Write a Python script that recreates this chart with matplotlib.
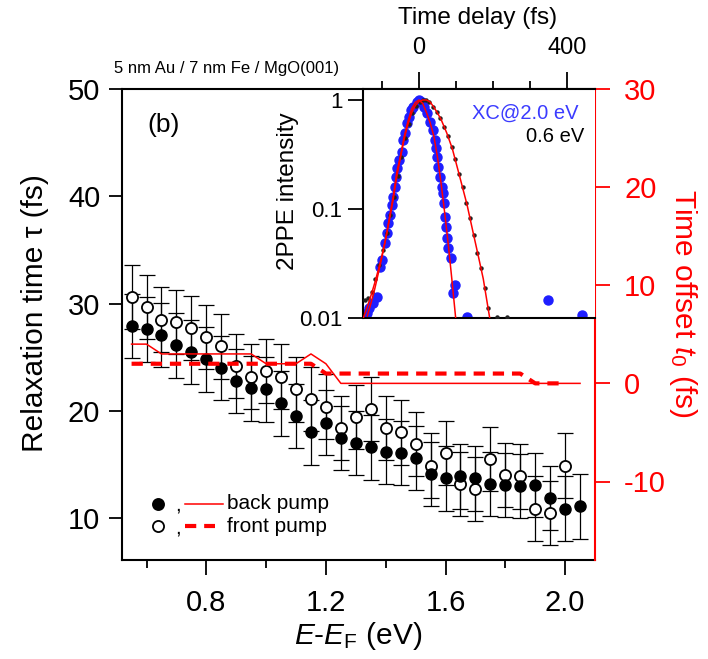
import matplotlib
matplotlib.use("Agg")
import matplotlib.pyplot as plt
from matplotlib import ticker

plt.rcParams["font.family"] = ["Liberation Sans", "DejaVu Sans"]
plt.rcParams["mathtext.fontset"] = "custom"
plt.rcParams["mathtext.rm"] = "Liberation Sans"
plt.rcParams["mathtext.it"] = "Liberation Sans:italic"

# main panel: relaxation time vs energy
energy = [0.55, 0.60, 0.65, 0.70, 0.75, 0.80, 0.85, 0.90, 0.95, 1.00,
          1.05, 1.10, 1.15, 1.20, 1.25, 1.30, 1.35, 1.40, 1.45, 1.50,
          1.55, 1.60, 1.65, 1.70, 1.75, 1.80, 1.85, 1.90, 1.95, 2.00, 2.05]
tau_back = [27.9, 27.6, 27.1, 26.1, 25.5, 24.8, 24.0, 22.8, 22.1, 22.0,
            20.7, 19.5, 18.0, 18.9, 17.5, 17.0, 16.6, 16.2, 16.1, 15.6,
            14.1, 13.7, 13.9, 13.7, 13.2, 13.1, 13.0, 13.1, 11.9, 10.9, 11.1]
tau_front = [30.6, 29.7, 28.5, 28.3, 27.7, 26.9, 26.0, 24.2, 23.2, 23.7,
             23.2, 22.0, 21.1, 20.4, 18.4, 19.4, 20.2, 18.4, 18.0, 16.9,
             14.9, 16.1, 13.2, 12.7, 15.5, 14.0, 13.9, 10.9, 10.5, 14.9]
tau_err = 3.0

# time offset t0 (right axis)
t0_back = [4, 4, 3, 3, 3, 3, 3, 3, 3, 2, 2, 2, 3, 2, 0, 0,
           0, 0, 0, 0, 0, 0, 0, 0, 0, 0, 0, 0, 0, 0, 0]
t0_front = [2, 2, 2, 2, 2, 2, 2, 2, 2, 2, 2, 2, 2, 1, 1,
            1, 1, 1, 1, 1, 1, 1, 1, 1, 1, 1, 1, 0, 0, 0]

# inset: cross correlation at 2.0 eV (blue) and trace at 0.6 eV (black)
xc_t = [-141.8, -134.6, -123.8, -114.7, -105.7, -101.2, -92.1, -87.6, -83.1, -78.6,
        -74.1, -69.6, -65.0, -62.3, -58.7, -54.2, -47.0, -42.5, -37.9, -31.6,
        -26.2, -22.6, -15.4, -6.3, 0.0, 7.2, 13.6, 20.8, 29.8, 37.0,
        43.4, 46.1, 49.7, 52.4, 56.9, 61.4, 64.1, 67.8, 70.5, 73.2,
        75.0, 79.5, 86.7, 91.2, 97.6, 129.2, 350.5, 440.8]
xc_i = [0.0111, 0.0123, 0.0137, 0.0158, 0.0297, 0.0342, 0.0486, 0.060, 0.0742, 0.0883,
        0.109, 0.130, 0.161, 0.198, 0.237, 0.282, 0.336, 0.430, 0.495, 0.611,
        0.703, 0.81, 0.869, 0.966, 1.0, 0.966, 0.869, 0.755, 0.633, 0.531,
        0.430, 0.361, 0.303, 0.245, 0.198, 0.161, 0.140, 0.113, 0.0853, 0.069,
        0.054, 0.0438, 0.0355, 0.0169, 0.0202, 0.0102, 0.0147, 0.0107]
e06_t = [-146, -138, -128, -118, -108, -98, -88, -78, -68, -58, -48, -38, -28, -18, -8,
         2, 12, 20, 28, 38, 48, 58, 68, 78, 88, 98, 108, 118, 128, 138,
         148, 158, 168, 178, 188, 210, 238]
e06_i = [0.0147, 0.0155, 0.0175, 0.023, 0.031, 0.042, 0.060, 0.088, 0.128, 0.20,
         0.30, 0.45, 0.60, 0.76, 0.88, 0.96, 0.99, 1.0, 0.96, 0.87,
         0.77, 0.68, 0.57, 0.47, 0.37, 0.29, 0.21, 0.16, 0.115, 0.083,
         0.058, 0.040, 0.029, 0.019, 0.0125, 0.0102, 0.0102]
xc_fit_t = [-140, -130, -120, -110, -100, -90, -80, -70, -60, -50, -40, -30, -20,
            -10, 0, 10, 20, 30, 40, 50, 60, 70, 80, 90, 100]
xc_fit_i = [0.0105, 0.0138, 0.0185, 0.026, 0.037, 0.054, 0.084, 0.13, 0.22, 0.31,
            0.465, 0.635, 0.83, 0.95, 1.0, 0.93, 0.77, 0.62, 0.47, 0.30,
            0.17, 0.09, 0.045, 0.021, 0.0095]
e06_fit_t = [-152, -140, -130, -120, -110, -100, -90, -80, -70, -60, -50, -40, -30,
             -20, -10, 0, 10, 20, 30, 40, 50, 60, 75, 90, 110, 130, 147, 160, 174, 192]
e06_fit_i = [0.0098, 0.0128, 0.0162, 0.021, 0.028, 0.038, 0.054, 0.080, 0.122, 0.20,
             0.30, 0.44, 0.60, 0.76, 0.89, 0.97, 1.0, 1.0, 0.96, 0.86,
             0.76, 0.66, 0.50, 0.36, 0.20, 0.11, 0.06, 0.038, 0.023, 0.0098]

RED = "#ff0000"
BLUE = "#1e1eff"
W, H = 708, 659

fig = plt.figure(figsize=(W / 100, H / 100), dpi=100)


def fig_xy(px, py):
    return px / W, 1 - py / H


ax = fig.add_axes([121.7 / W, 1 - 560 / H, (595 - 121.7) / W, (560 - 89) / H])
ax.errorbar(energy, tau_back, yerr=tau_err, fmt="none", ecolor="black",
            elinewidth=0.9, capsize=5.5, capthick=0.9, zorder=1)
ax.errorbar(energy[:len(tau_front)], tau_front, yerr=tau_err, fmt="none",
            ecolor="black", elinewidth=0.9, capsize=5.5, capthick=0.9, zorder=1)
ax.plot(energy[:len(tau_front)], tau_front, "o", ms=8, mfc="white", mec="black",
        mew=1.3, zorder=2)
ax.plot(energy, tau_back, "o", ms=8, mfc="black", mec="black", zorder=3)

ax.set_xlim(0.517, 2.1)
ax.set_ylim(6.1, 50)
ax.xaxis.set_major_locator(ticker.MultipleLocator(0.4))
ax.xaxis.set_minor_locator(ticker.MultipleLocator(0.2))
ax.xaxis.set_major_formatter(ticker.FormatStrFormatter("%.1f"))
ax.yaxis.set_major_locator(ticker.MultipleLocator(10))
ax.tick_params(axis="x", which="major", length=11, width=1.3, pad=10, labelsize=21)
ax.tick_params(axis="x", which="minor", length=6, width=1.3)
ax.tick_params(axis="y", length=9.5, width=1.3, pad=6, labelsize=21)
for s in ["left", "top", "bottom"]:
    ax.spines[s].set_linewidth(1.5)
ax.spines["right"].set_visible(False)

ax2 = ax.twinx()
ax2.plot(energy, t0_back, color=RED, lw=1.1)
ax2.plot(energy[:len(t0_front)], t0_front, color=RED, lw=3, dashes=(2.7, 1.9))
ax2.set_ylim(-18, 30)
ax2.yaxis.set_major_locator(ticker.MultipleLocator(10))
ax2.yaxis.set_major_formatter(ticker.FuncFormatter(lambda v, _: f"{v:.0f}"))
ax2.tick_params(axis="y", colors=RED, length=11, width=1.3, pad=10, labelsize=21)
for s in ["left", "top", "bottom"]:
    ax2.spines[s].set_visible(False)
ax2.spines["right"].set_color(RED)
ax2.spines["right"].set_linewidth(1.5)

# inset
ins = fig.add_axes([362.7 / W, 1 - 318.3 / H, (595 - 362.7) / W, (318.3 - 88.5) / H])
ins.plot(xc_t, xc_i, "o", ms=6.5, color=BLUE, mec=BLUE, zorder=2)
ins.plot(e06_t, e06_i, "o", ms=2.2, color="#222222", zorder=3)
ins.plot(xc_fit_t, xc_fit_i, color=RED, lw=1.1, zorder=4)
ins.plot(e06_fit_t, e06_fit_i, color=RED, lw=1.1, zorder=4)
ins.set_yscale("log")
ins.set_xlim(-152.5, 476.6)
ins.set_ylim(0.01, 1.274)
ins.xaxis.tick_top()
ins.xaxis.set_major_locator(ticker.FixedLocator([0, 400]))
ins.xaxis.set_minor_locator(ticker.FixedLocator([-100, 100, 200, 300]))
ins.yaxis.set_major_locator(ticker.FixedLocator([0.01, 0.1, 1]))
ins.yaxis.set_minor_locator(ticker.NullLocator())
ins.yaxis.set_major_formatter(ticker.FuncFormatter(lambda v, _: f"{v:g}"))
ins.tick_params(axis="x", which="major", length=12, width=1.3, pad=9, labelsize=17)
ins.tick_params(axis="x", which="minor", length=5.5, width=1.3)
ins.tick_params(axis="y", length=10.5, width=1.3, pad=4, labelsize=16)
for s in ["left", "top", "bottom"]:
    ins.spines[s].set_linewidth(1.5)
ins.spines["right"].set_visible(False)

# texts
fig.text(*fig_xy(114, 73.5), "5 nm Au / 7 nm Fe / MgO(001)", fontsize=12, va="baseline")
fig.text(*fig_xy(477.5, 18), "Time delay (fs)", fontsize=17.5, ha="center", va="center")
fig.text(*fig_xy(288, 191), "2PPE intensity", fontsize=17.5, rotation=90,
         ha="center", va="center")
fig.text(*fig_xy(579, 113), "XC@2.0 eV", fontsize=14.5, color="#3b3bff",
         ha="right", va="center")
fig.text(*fig_xy(584, 136), "0.6 eV", fontsize=14.5, ha="right", va="center")
fig.text(*fig_xy(164, 125), "(b)", fontsize=19, ha="center", va="center")
fig.text(*fig_xy(35, 313), "Relaxation time \u03c4 (fs)", fontsize=21.5, rotation=90,
         ha="center", va="center")
fig.text(*fig_xy(683, 303), r"Time offset $\it{t}_0$ (fs)", fontsize=21.5,
         rotation=270, ha="center", va="center", color=RED)
fig.text(*fig_xy(358, 636), r"$\it{E}$-$\it{E}_\mathrm{F}$ (eV)", fontsize=21.5,
         ha="center", va="center")

# legend
rows = [(503.5, "black", "-", 1.1, "back pump", 223.3),
        (526.0, "white", "--", 3, "front pump", 215.0)]
for py, face, ls, lw, label, x_end in rows:
    fig.lines.append(plt.Line2D([157.7 / W], [1 - py / H], marker="o", ms=8, mfc=face,
                                mec="black", mew=1.3, transform=fig.transFigure))
    fig.text(*fig_xy(178.3, py + 7), ",", fontsize=15, ha="center", va="baseline")
    seg = plt.Line2D([185 / W, x_end / W], [1 - py / H, 1 - py / H], color=RED, lw=lw,
                     transform=fig.transFigure)
    if ls == "--":
        seg.set_dashes((2.7, 1.9))
    fig.lines.append(seg)
    fig.text(*fig_xy(226.7, py), label, fontsize=15, va="center")

fig.savefig("out.png", dpi=100)
